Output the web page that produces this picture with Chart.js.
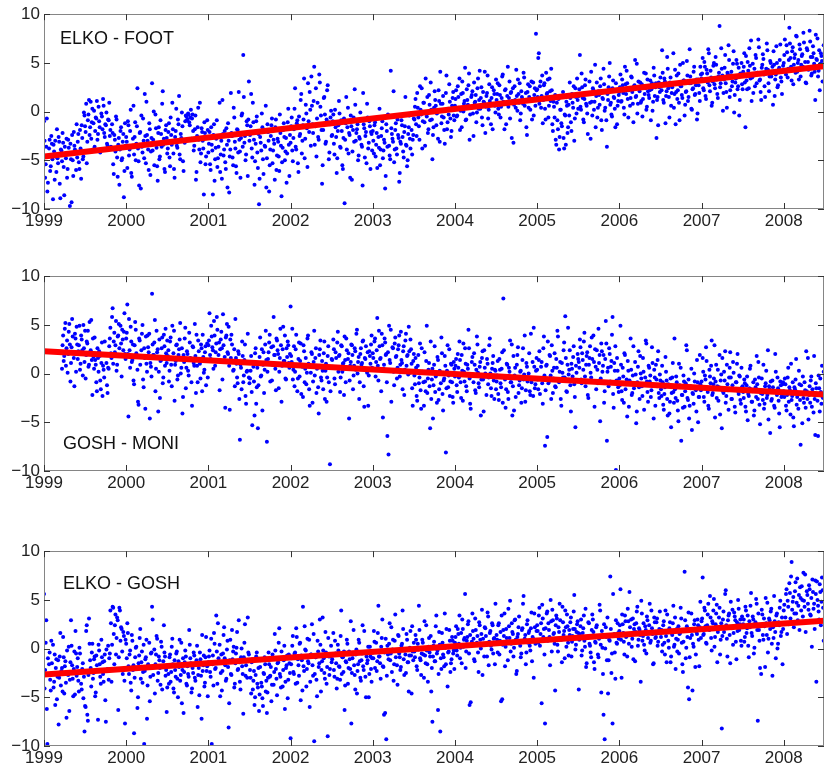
<!DOCTYPE html>
<html><head><meta charset="utf-8">
<script src="https://cdn.jsdelivr.net/npm/chart.js@4.4.1/dist/chart.umd.min.js"></script>
<style>
html,body{margin:0;padding:0;background:#fff;width:828px;height:774px;overflow:hidden;}
canvas{position:absolute;left:0;}
</style></head><body>
<canvas id="c1" width="828" height="239" style="top:0px"></canvas>
<canvas id="c2" width="828" height="239" style="top:262px"></canvas>
<canvas id="c3" width="828" height="239" style="top:537px"></canvas>
<script>
// ---------- data ----------
const firstYear = 1999;
const lastX = 2008.49;
const sampleDays = 5;          // A samples every 5 days, B samples half-way between
const yearTicks = [1999, 2000, 2001, 2002, 2003, 2004, 2005, 2006, 2007, 2008];
const yTicks = [-10, -5, 0, 5, 10];
const panelNames = ["ELKO - FOOT", "GOSH - MONI", "ELKO - GOSH"];

// one inner array per year (1999 ... 2008)
const elkoFootA = [
 [-1.0,-6.8,-3.6,-8.2,-4.5,-2.9,-5.6,-3.3,-9.0,-4.1,-3.0,-6.2,-4.8,-2.6,-7.4,-3.9,-5.1,-3.2,-8.6,-4.4,-2.8,-5.9,-3.7,-9.7,-4.9,-2.4,-6.6,-3.5,-4.2,-1.3,-3.1,-5.2,-1.9,-6.9,-2.7,-4.6,-0.4,-2.1,-5.3,-0.9,1.2,-1.6,-2.8,0.3,-1.2,-3.6,-0.6,1.1,-2.3,-1.0,-4.2,-0.2,-1.8,0.6,-2.6,-1.4,-3.3,-0.8,0.9,-1.9,-3.8,-2.2,-6.4,-2.9,-0.5,-4.7,-3.4,-7.5,-2.0,-5.0,-3.1,-8.8,-1.2],
 [-2.6,-5.8,-1.4,-3.9,0.2,-6.7,-2.8,-4.4,-1.1,-3.3,2.4,-5.1,-2.2,-7.9,-3.6,-0.7,-4.8,-2.5,1.0,-3.0,-6.0,-1.8,-4.1,2.9,-2.9,-5.5,-0.3,-3.7,-7.1,-1.6,-4.6,-2.3,0.8,-3.4,-5.9,-1.9,-2.7,-3.8,-1.2,-5.6,-2.4,0.9,-4.3,-6.8,-2.0,-3.5,-0.8,1.6,-4.9,-2.7,-1.5,-6.1,-3.2,-0.4,-0.9,-0.2,-1.1,-0.6,-2.8,-0.3,-4.0,-1.8,-7.0,-2.5,0.4,-3.9,-5.2,-1.7,-3.0,-8.5,-2.2,-4.6,-0.9],
 [-4.2,-2.1,-6.0,-3.4,-8.5,-1.3,-4.9,-2.8,-5.7,-3.6,0.9,-4.4,-6.9,-2.3,-3.9,-5.2,-1.7,-7.8,-3.0,-4.6,1.9,-2.5,-5.5,-0.6,-3.8,-6.3,-1.9,2.0,-4.1,-2.7,-0.2,5.8,-3.2,-5.0,-1.0,-6.6,3.1,-2.4,1.8,-4.7,-1.1,-7.5,-3.3,-0.5,-5.8,-9.5,-2.6,-4.0,-1.6,-6.4,-3.5,0.6,-4.8,-2.1,-8.2,-3.9,-1.4,-5.3,-2.9,-7.0,-0.8,-4.5,-3.1,-6.1,-2.2,-8.7,-3.7,-1.2,-5.0,-2.7,-4.3,0.3,-6.6],
 [-3.2,-0.6,-5.1,-1.8,2.4,-3.9,-0.9,-6.2,-2.5,1.2,-4.3,-1.4,3.4,-2.8,-0.2,-5.7,-1.0,2.0,-3.5,0.6,-2.2,4.6,-1.5,-4.6,0.9,-2.9,3.0,-0.4,-7.4,-1.9,1.5,-3.3,-0.8,2.7,-4.9,-1.3,0.1,-2.4,-0.3,-4.4,-1.6,-6.3,-2.0,1.1,-3.6,-0.9,-5.5,-2.7,-9.4,-1.2,-3.9,0.4,-2.2,-6.8,-1.5,-4.1,-0.6,2.3,-3.0,-1.8,-5.0,-2.6,-0.1,-3.4,-7.6,-1.3,-4.7,-2.1,0.8,-3.8,-1.0,-5.9,-2.3],
 [-2.0,-4.3,-1.1,-3.4,-5.8,-2.6,0.3,-3.9,-1.7,-4.8,-2.9,-7.9,-1.3,-3.6,-0.5,-4.5,4.2,-2.3,-3.1,-5.2,-1.9,-3.8,-0.8,-2.7,-6.3,-3.3,-1.4,-4.1,-2.1,1.5,-3.5,-5.0,-1.6,-2.8,-0.2,-4.4,-2.4,-0.8,1.3,-2.5,0.4,-1.5,2.6,-0.3,-3.8,0.9,-1.1,3.4,-0.5,-2.2,1.7,-0.9,0.2,-4.9,-1.6,2.1,0.6,-0.2,-2.8,1.1,4.1,-1.2,0.8,-0.6,-3.3,1.9,-1.8,0.3,2.8,-0.7,-2.0,1.4,-0.4],
 [0.6,2.2,-0.4,1.5,3.4,0.1,-1.6,1.9,0.8,4.5,-0.8,1.2,2.7,-2.9,0.4,1.7,-0.2,3.0,1.0,-1.1,2.4,0.3,4.2,1.4,-0.6,2.0,0.9,-2.2,1.6,3.7,0.2,1.1,-1.3,2.5,0.7,1.8,-0.1,1.2,2.9,-0.3,1.7,0.5,3.6,1.0,-1.8,2.3,0.8,4.6,1.4,-0.7,2.0,1.1,-3.2,2.6,0.4,1.6,3.3,0.9,-0.9,2.1,1.3,4.0,0.6,1.9,-2.4,2.8,1.5,0.2,3.1,1.2,-0.4,2.4,8.0],
 [2.3,5.5,0.8,3.1,1.6,-1.2,2.7,0.3,4.0,1.9,-0.6,3.4,1.1,2.2,-2.0,0.5,1.7,-3.4,-0.9,1.3,-2.6,0.2,-1.5,2.0,-3.8,-0.4,1.0,-2.2,0.7,3.0,-1.1,1.8,0.4,-3.0,2.4,-0.2,1.2,1.6,5.8,0.2,2.5,-0.8,1.3,3.3,0.6,-2.3,1.9,0.9,4.1,-0.4,2.2,1.0,-1.6,3.0,0.4,1.7,2.6,-0.9,1.4,4.4,0.1,2.0,-3.6,1.2,3.6,0.7,-0.3,2.4,1.5,0.3,2.9,-1.3,1.1],
 [2.0,3.8,1.1,2.7,0.4,4.6,1.8,2.9,-0.6,2.3,1.4,3.5,0.8,2.6,5.3,1.6,-0.2,3.1,2.1,0.9,2.8,1.3,4.0,2.4,0.2,3.3,1.7,2.2,-0.9,2.9,1.0,3.7,2.5,-2.7,1.5,3.0,2.0,2.8,6.3,1.2,3.4,-1.2,2.1,4.4,1.5,3.0,0.6,2.5,6.0,1.8,-1.3,3.7,2.2,0.9,4.8,2.6,1.4,3.2,-0.4,2.0,5.2,1.1,2.9,3.6,0.3,2.3,4.1,1.7,2.7,-0.8,3.3,1.9,4.6],
 [3.4,5.5,2.2,4.6,1.3,3.9,6.4,2.7,4.2,0.6,3.1,5.0,2.4,4.8,1.8,3.6,8.8,2.9,4.4,0.1,3.3,5.8,2.0,4.0,6.8,1.5,3.7,2.6,4.9,-0.1,3.0,5.3,2.3,4.5,1.2,3.8,2.8,4.1,6.0,-1.6,3.2,5.1,2.4,4.7,7.3,3.5,1.9,4.4,5.8,2.9,4.0,6.6,3.3,1.2,4.8,5.4,2.6,3.9,7.0,4.3,2.1,5.2,3.6,4.6,6.2,1.6,3.8,5.0,2.7,4.5,6.9,3.1,4.2],
 [5.0,7.4,3.8,6.1,4.4,8.6,5.5,3.2,6.6,4.8,5.9,7.8,4.1,5.3,6.9,3.6,5.7,4.6,7.1,5.1,2.9,6.3,4.3,8.3,5.6,3.9,6.7,4.9,1.2,5.4,7.5,4.2,2.2,6.0,5.2,4.7]
];
const elkoFootB = [
 [-3.0,-5.4,-0.7,-7.3,-3.8,-6.1,-2.5,-4.9,-3.4,-7.0,-4.6,-1.8,-5.3,-3.1,-8.9,-4.0,-2.2,-5.7,-3.6,-4.8,-6.8,-2.9,-4.3,-3.3,-9.3,-5.0,-2.1,-3.9,-6.0,-4.7,-2.3,-5.9,-3.8,-1.4,-4.9,-0.1,-1.5,0.8,-3.1,-0.3,-2.4,1.0,-1.1,-3.9,0.1,-2.0,-0.7,-2.9,0.5,-1.6,-4.0,-0.5,1.3,-2.2,-1.3,-0.1,-3.5,-0.9,-2.5,-3.6,-1.3,-5.4,-2.4,-4.1,-0.8,-6.7,-2.7,-3.9,-1.6,-4.8,-2.3,-6.1,-3.5],
 [-3.1,-1.0,-4.5,-2.0,-6.3,-3.5,0.6,-2.6,-5.0,-1.5,-3.8,-7.6,-2.1,-0.4,-4.2,-3.0,1.8,-5.3,-2.4,-3.9,-1.2,-6.5,-2.7,-4.0,0.0,-3.3,-1.7,-5.6,-2.2,-4.9,-0.9,-3.6,2.1,-2.8,-6.2,-1.4,-4.3,-2.1,-4.7,-0.6,-3.4,-1.8,-5.9,-2.6,0.3,-3.7,-1.3,-4.4,-2.3,-0.1,-5.1,-3.0,-1.0,-0.5,-0.8,-0.3,-1.4,0.2,-0.7,-2.0,-3.5,-0.4,-6.2,-1.6,-2.9,0.9,-4.3,-2.1,-3.8,-1.1,-5.4,-2.6,-1.9],
 [-3.3,-5.4,-1.6,-4.0,-2.4,-7.1,-3.7,-0.9,-4.8,-2.6,-6.2,-3.0,1.2,-4.5,-2.0,-5.9,-3.4,-1.2,-8.3,-3.9,-2.2,-4.7,0.4,-3.1,-5.6,-1.8,-4.2,-2.9,-6.8,-0.4,-3.6,1.5,-2.5,-4.4,-1.4,-0.8,-3.0,-1.5,-3.8,0.9,-2.9,-5.1,-1.0,-4.2,-2.3,-6.9,-3.2,-0.2,-4.9,-2.0,-3.6,-7.8,-1.3,-3.0,-5.5,-2.5,-0.7,-4.0,-3.3,-1.6,-6.0,-2.8,-4.6,-0.3,-3.5,-5.2,-1.9,-2.6,-4.1,-7.3,-1.1,-3.4,-2.4],
 [-1.5,-4.0,-2.7,0.3,-3.6,-1.2,-5.3,-0.5,-2.3,1.8,-3.0,-0.8,-4.8,0.7,-1.7,2.9,-2.1,0.2,3.6,-1.3,1.1,-3.4,2.4,-0.7,-2.6,3.8,0.5,-1.9,-5.5,1.4,-0.3,-3.1,2.2,-1.1,-4.2,-0.6,-2.5,-1.0,-3.3,0.2,-2.6,-4.8,-1.4,-0.2,-3.7,-2.0,-5.9,-0.7,-2.9,1.5,-1.6,-4.3,-2.4,-0.4,-7.0,-1.9,-3.1,0.7,-2.2,-1.3,-4.5,-2.8,-0.9,-3.6,1.9,-1.7,-2.5,-5.3,-0.6,-3.2,-1.5,-2.1,-4.0],
 [-3.0,-1.4,-4.6,-2.2,-0.6,-3.7,-5.5,-2.5,-1.0,-4.0,-3.2,-6.6,-2.0,-0.3,-3.5,-4.9,-1.7,-2.8,2.1,-3.9,-1.2,-4.4,-2.4,-7.2,-3.1,-0.9,-2.6,-4.7,-1.5,-3.4,-5.6,-2.3,-0.4,-3.8,-1.9,-2.9,-0.7,0.5,-1.3,1.9,-0.6,-2.9,0.2,2.4,-1.0,0.9,-3.5,-0.2,1.5,-1.8,0.7,3.0,-0.8,-2.4,0.4,1.2,-1.4,-0.1,2.2,-3.1,0.8,-0.5,1.6,-1.9,0.1,3.7,-1.1,-0.3,1.0,-2.6,0.6,2.0,-0.9],
 [1.3,-0.5,2.6,0.4,-1.9,1.8,3.1,0.0,1.1,-0.9,2.3,0.7,3.9,-0.3,1.5,2.1,-2.5,0.9,1.7,-0.1,3.4,1.2,0.3,2.5,-1.4,1.0,4.1,0.5,1.9,-0.7,2.8,0.8,1.4,-1.8,2.2,0.6,3.3,1.8,0.3,2.7,-0.6,1.4,3.8,0.9,2.2,-1.3,1.6,0.5,3.1,1.9,-2.7,2.4,0.7,1.2,4.3,0.1,1.8,2.9,-0.2,1.5,0.8,3.5,1.1,-1.6,2.0,0.4,2.6,1.3,-0.8,3.0,1.7,0.6,2.2],
 [1.5,6.0,2.6,0.4,3.7,1.2,2.9,-0.8,1.8,3.3,0.6,2.1,4.4,-1.3,1.0,-0.6,-2.9,0.9,-1.8,-3.9,0.2,-1.2,1.6,-2.7,-0.3,-3.4,0.6,-1.6,-0.4,1.4,-2.0,0.9,2.6,-0.7,1.5,3.4,0.3,2.3,0.5,3.9,1.4,-1.1,2.7,0.8,-0.2,1.9,3.1,-2.8,1.0,2.4,0.2,4.8,1.6,-0.6,2.1,0.7,3.4,-1.9,1.3,2.8,0.4,-0.9,1.8,2.5,5.0,0.9,-0.5,3.2,1.4,-1.6,2.2,0.6,1.7],
 [2.5,1.0,3.3,1.9,-0.3,2.8,4.2,1.3,2.2,0.6,3.6,2.0,-1.1,2.7,1.5,4.9,0.8,2.4,3.0,1.1,-0.5,2.6,1.8,3.9,0.5,2.1,1.4,3.2,2.3,0.1,4.5,1.6,2.9,1.2,-1.4,2.5,3.5,2.2,4.0,0.9,3.1,1.6,5.6,2.4,-0.6,3.5,1.9,2.8,0.4,4.3,2.0,1.3,3.9,-0.9,2.6,1.7,5.0,3.2,0.7,2.1,3.7,1.5,6.4,2.9,0.2,2.4,4.6,1.8,3.3,-0.2,2.7,1.1,3.8],
 [3.9,2.4,5.1,1.6,4.3,3.0,6.0,2.1,3.5,0.9,4.7,2.8,5.6,3.3,1.4,4.0,2.5,6.5,3.7,1.9,4.5,2.9,0.4,3.8,5.3,2.2,4.1,3.1,6.2,1.7,3.4,4.9,2.6,-0.4,3.9,5.0,2.3,4.6,3.0,5.7,2.3,4.2,6.5,3.4,1.1,4.9,3.7,2.6,5.5,4.0,7.4,3.2,2.0,4.5,5.9,3.8,1.5,4.4,6.3,2.9,3.6,5.0,4.1,0.7,4.8,3.3,6.7,2.5,4.3,5.3,3.5,1.8,4.7],
 [5.8,4.2,6.8,3.5,5.3,7.0,4.6,6.2,2.8,5.5,4.0,7.7,5.0,3.3,6.4,4.8,5.9,8.1,4.4,3.0,6.5,5.1,4.5,7.2,3.7,5.6,6.0,4.1,7.9,5.3,3.6,6.3,4.9,5.7,3.1,6.8]
];

const goshMoniA = [
 [null,null,null,null,null,null,null,null,null,null,null,null,null,null,null,null,0.5,3.9,1.8,5.2,2.6,0.1,4.3,3.0,1.1,5.6,2.2,-1.3,3.6,4.8,1.5,2.9,0.4,3.9,2.4,5.0,1.2,-0.5,3.3,4.4,0.9,2.0,5.5,-2.2,1.7,3.7,0.9,-1.8,1.6,2.3,-0.7,1.1,-2.3,0.4,3.3,1.9,-1.2,0.6,2.8,4.7,1.6,6.7,3.3,2.2,5.4,0.9,3.9,2.6,4.9,-0.3,3.5,4.3,2.0],
 [3.6,7.1,-4.4,2.4,4.8,1.2,3.0,-1.1,5.3,2.1,0.4,-3.2,3.4,1.7,4.1,-0.6,2.6,-3.6,1.0,3.9,2.2,-4.6,0.7,8.2,1.9,3.2,-1.8,4.4,2.5,0.2,-2.5,1.4,3.7,-0.4,2.8,4.6,1.1,1.8,-0.8,3.3,0.9,4.9,2.1,-2.8,1.3,3.0,-0.2,2.5,5.2,0.6,-4.1,1.9,3.6,-1.5,2.3,0.3,4.2,1.6,-0.9,2.8,1.1,5.1,-2.0,0.8,3.4,1.5,-0.5,2.6,4.0,0.1,2.2,-1.2,3.1],
 [2.9,6.2,1.5,3.8,2.4,5.4,0.8,3.1,4.5,1.9,-1.7,3.5,2.6,6.1,1.2,-3.5,3.9,2.2,4.8,-3.7,1.6,3.0,0.3,2.5,5.6,1.0,-1.0,2.0,-6.8,0.6,3.3,-0.9,1.4,-2.3,0.2,4.1,-0.4,-0.5,1.8,-5.3,0.7,-4.3,2.6,-1.4,-5.6,1.1,3.7,-0.2,-3.8,2.2,0.4,4.4,-7.0,1.5,3.2,-0.8,2.7,0.9,5.8,1.9,-1.7,3.4,2.0,0.2,4.6,-2.9,2.5,1.3,3.9,-0.6,1.7,2.9,0.6],
 [6.9,1.2,-0.6,2.8,0.2,4.0,-1.8,1.5,-0.3,3.1,0.9,-2.4,2.3,0.5,-1.1,3.6,1.0,-3.3,0.1,2.0,-0.8,4.4,1.6,-2.0,0.7,-4.1,2.5,-0.4,1.3,-1.6,3.3,0.3,-2.9,1.8,-0.9,-9.3,0.6,1.4,3.5,-0.5,2.2,0.6,4.3,1.8,-1.9,2.9,0.2,1.1,3.8,-0.9,2.4,1.5,-4.6,0.8,3.0,1.9,-0.2,2.6,0.4,4.5,1.2,-2.6,2.0,0.9,3.3,-1.3,1.6,2.8,0.1,-3.3,2.3,1.0,3.9],
 [2.1,0.4,3.6,1.2,5.7,-0.7,2.8,1.6,4.1,-4.5,0.9,3.2,2.0,-6.4,-8.3,1.4,4.5,0.3,2.6,-1.2,3.7,1.8,0.6,2.9,-0.3,4.3,1.1,2.3,-2.2,3.4,0.8,1.9,4.8,0.1,2.5,-1.5,1.3,-0.2,1.6,-2.3,0.8,-1.0,3.1,-3.6,0.2,-0.9,2.2,-1.8,4.9,-0.5,1.1,-5.6,-2.6,0.5,-1.2,2.8,-0.3,-3.0,1.4,-1.6,0.0,3.7,-2.1,-0.7,1.8,-8.1,0.3,-1.4,2.5,-0.8,0.9,-2.4,1.2],
 [-0.3,1.5,-1.9,0.6,3.3,-0.9,1.9,-2.8,0.2,2.6,-1.3,0.9,4.5,-0.5,-3.6,1.2,-0.1,2.1,-1.7,0.4,3.0,-1.0,0.7,-4.3,1.6,-0.6,2.4,0.0,-2.2,1.0,-0.4,3.6,-1.5,0.5,1.8,-2.6,0.3,-0.8,1.3,-2.7,0.4,-1.4,2.2,7.7,-0.3,-3.5,1.0,-1.9,0.6,3.4,-0.9,-4.3,1.8,-0.2,-2.4,0.9,2.7,-1.2,0.2,-3.0,1.4,-0.6,3.9,-1.7,0.7,-0.4,2.1,-2.2,-0.9,1.2,4.7,-1.5,0.3],
 [0.4,-1.6,2.3,-0.5,1.2,-3.1,3.8,-7.4,0.8,-6.5,-1.0,1.9,-0.2,2.9,-2.0,0.6,-1.3,1.5,4.4,-0.7,0.2,-2.6,1.1,-0.4,3.2,5.9,-1.8,0.9,-0.1,2.4,-3.9,0.5,1.7,-1.1,-5.5,0.1,2.0,1.2,3.5,-0.6,2.1,0.4,4.2,-1.3,1.8,-2.2,0.9,2.8,-0.4,1.5,3.9,-3.4,0.7,2.4,-1.0,1.1,-4.9,3.1,0.2,1.9,-1.8,5.4,-6.9,0.6,2.6,-0.8,1.3,5.8,-3.5,0.3,-9.9,1.6,-1.4],
 [-0.5,4.9,-1.8,0.6,-3.0,1.9,-1.1,-4.4,0.3,-0.7,3.6,-2.2,-0.2,-1.5,1.2,-5.1,-0.9,2.3,-2.6,0.0,-1.3,1.6,-3.7,-0.4,3.1,-1.9,0.8,-0.8,-2.4,2.7,-1.2,0.4,-3.3,-0.6,1.4,-2.0,-0.1,-1.6,0.8,-3.2,-2.1,1.7,-0.7,-4.3,-1.2,-2.9,-5.5,-0.4,-1.9,3.6,-2.5,-0.9,-3.8,1.0,-1.4,-6.9,-2.2,-0.2,-3.4,-1.0,2.4,-2.7,-4.6,-1.5,0.5,-2.0,-3.1,-0.8,-1.7,1.4,-5.0,-2.4,-1.1],
 [-0.8,1.6,-2.4,-0.2,2.7,-1.5,-3.3,0.4,-1.0,3.4,-2.0,-0.5,-4.5,0.9,-1.3,-2.8,1.9,-0.7,-5.6,-1.8,0.2,2.3,-2.3,-1.1,-3.7,0.6,-0.4,-2.6,1.2,-1.6,-4.0,-0.9,2.0,-2.1,-0.3,-3.1,-1.4,-1.9,-0.6,-3.4,-1.2,-4.8,-2.3,0.5,-1.6,-2.9,-0.9,-3.8,-1.4,1.8,-2.6,-0.4,-5.2,-1.7,-2.1,0.9,-3.1,-1.0,-2.5,2.4,-1.3,-6.1,-2.8,-0.7,-1.8,-3.5,0.2,-2.2,-1.5,-4.1,-0.8,-2.4,-1.1],
 [-1.8,-0.5,-3.3,-2.2,0.6,-1.4,-4.2,-2.7,-0.9,-5.4,-1.6,1.5,-2.4,-3.6,-1.1,-7.3,-2.0,-0.3,-3.0,-1.7,2.3,-2.6,-4.7,-1.3,-0.7,-3.4,-2.1,1.8,-6.3,-1.5,-2.8,-0.2,-3.9,-1.9,0.8,-2.5]
];
const goshMoniB = [
 [null,null,null,null,null,null,null,null,null,null,null,null,null,null,null,null,2.9,1.3,4.6,0.8,3.4,2.0,5.1,-0.8,2.7,3.8,1.6,4.1,0.2,3.0,2.3,4.9,1.0,3.5,-0.2,2.6,4.4,1.9,3.1,0.7,5.3,2.4,1.4,3.6,0.5,1.4,-0.9,2.6,0.2,1.8,-1.6,3.2,0.8,-0.4,2.0,1.1,-2.0,0.5,3.6,2.1,5.8,1.0,4.2,2.9,0.3,3.8,5.1,1.8,3.1,4.5,2.4,6.2,1.5],
 [4.2,2.0,5.6,0.6,3.3,1.4,-0.7,2.9,4.5,1.8,-2.9,3.6,0.9,2.4,5.0,-1.4,1.6,3.8,0.2,2.7,4.1,1.1,-0.3,3.0,1.9,5.5,0.5,2.2,-3.9,3.5,1.3,2.6,-1.0,4.0,0.8,2.1,3.4,2.4,0.3,3.7,-1.3,1.6,4.4,0.9,2.9,-0.6,1.9,3.5,0.0,2.6,-2.4,1.2,4.7,0.6,2.0,-0.2,3.2,1.5,-3.3,2.7,0.8,1.8,4.0,-0.9,2.3,1.0,3.0,-1.8,1.7,0.4,2.8,1.3,-0.4],
 [3.4,1.9,4.9,2.7,0.5,3.9,2.2,5.8,1.4,3.2,2.5,4.3,-0.6,2.9,1.7,3.7,5.1,2.0,0.8,3.5,4.0,1.2,0.4,-1.3,1.6,-0.4,2.3,-2.6,0.9,-1.6,1.8,-0.2,3.0,-3.1,0.3,1.1,-1.0,0.3,-1.9,1.2,-0.8,2.1,-3.1,0.6,-1.2,1.7,-0.3,2.5,0.9,-2.0,3.0,1.4,0.2,2.2,4.0,1.0,-0.7,2.8,1.9,0.5,3.6,2.4,-1.5,1.6,2.9,0.8,4.8,1.3,-0.5,2.6,3.3,1.1,2.0],
 [1.8,4.6,0.4,-1.3,2.5,0.9,-0.5,3.2,1.3,-2.1,0.7,2.9,-0.9,1.6,0.1,3.9,-1.6,0.8,2.2,-3.0,1.2,-0.2,2.6,0.5,-1.4,1.9,3.4,-0.7,0.3,2.1,-2.6,1.0,-0.4,2.8,0.6,-1.8,1.5,0.7,2.5,-1.1,1.6,3.2,0.2,1.9,-0.4,2.8,1.0,-2.2,1.4,3.6,0.5,2.1,-0.7,1.2,2.9,-1.6,0.8,2.3,4.1,0.0,1.7,-0.9,2.6,1.1,3.4,-3.4,1.5,0.4,2.2,-0.2,1.8,3.0,0.6],
 [1.6,3.3,-0.3,2.4,0.8,4.4,1.5,-1.8,2.9,0.5,3.6,1.9,-0.9,2.2,4.9,1.1,-2.9,2.7,0.2,3.1,1.7,-0.5,2.5,3.9,0.9,1.4,-1.6,2.8,0.4,4.1,1.8,-0.1,2.3,3.5,1.0,-3.3,2.0,-1.1,0.6,-2.8,1.9,-0.4,-1.7,2.6,0.2,-3.3,-0.8,1.3,-2.0,0.4,-1.3,3.3,-0.6,-4.6,0.9,-1.9,-0.1,1.7,-2.7,0.3,-1.0,2.1,-3.8,-0.5,0.8,-1.5,2.9,-0.2,-2.3,1.0,-0.9,-3.0,0.5],
 [0.8,-1.2,2.0,-0.4,1.4,-2.5,0.3,3.1,-0.8,1.0,-1.8,0.5,2.6,-3.1,-0.2,1.7,-0.9,0.9,-2.0,3.8,0.1,-1.4,1.2,-0.6,2.3,-3.9,0.6,-0.3,1.5,-1.1,2.9,0.0,-2.3,1.1,-0.7,0.4,-1.6,-0.2,-2.1,1.5,-1.0,0.5,-3.0,2.4,-0.6,-1.6,0.9,-2.6,0.2,-0.9,3.0,-1.3,-3.8,0.6,-0.4,1.9,-2.0,-0.7,0.3,-1.5,2.6,-0.1,-2.9,1.1,-0.8,0.0,-1.8,4.1,-0.5,-2.3,0.7,-1.1,1.6],
 [-0.6,1.4,-2.1,0.7,-1.0,2.6,-0.2,-1.7,0.9,3.3,-0.8,1.8,-2.6,0.3,-0.5,2.1,-1.4,0.6,3.8,-0.9,1.2,-3.3,0.1,2.4,-0.4,1.6,-1.9,4.7,0.4,-1.2,1.0,-0.3,2.8,-2.4,0.8,-0.7,1.5,0.6,2.7,-1.0,1.4,3.3,-0.3,0.9,2.2,-2.5,1.6,0.1,3.7,-0.8,1.2,2.5,-1.6,0.4,4.6,1.9,-0.5,2.3,0.8,-3.0,1.5,3.1,0.2,-1.3,2.0,0.7,4.0,-2.1,1.1,2.8,-0.7,0.3,-1.9],
 [-1.2,0.9,-2.7,-0.3,2.1,-1.6,-0.6,1.3,-3.4,-0.9,0.4,-2.0,2.8,-1.0,-0.1,-3.9,0.7,-1.4,1.8,-0.5,-2.3,0.2,-1.1,3.4,-0.8,-2.9,0.6,-0.2,-1.7,1.1,-4.6,-0.4,0.9,-1.3,2.3,-2.5,-0.7,-2.3,-0.9,-3.7,-1.4,0.2,-2.6,-1.1,-4.1,-0.5,-2.0,1.1,-3.0,-1.6,-0.3,-2.8,-4.9,-1.2,0.6,-2.2,-3.5,-0.8,-1.8,2.9,-2.5,-0.6,-3.3,-1.3,-5.8,-2.1,0.0,-1.5,-3.9,-0.9,-2.4,1.9,-1.7],
 [-1.5,0.2,-2.9,-0.6,1.3,-1.9,-3.6,-0.3,0.8,-2.2,-1.1,2.9,-0.8,-2.5,0.4,-1.4,-4.2,-0.1,1.6,-2.0,-0.7,-3.0,0.9,-1.7,-0.4,2.2,-2.6,-1.2,0.1,-3.4,-0.9,1.0,-1.8,-0.2,-2.7,0.6,-1.3,-2.5,-1.0,-3.9,-0.3,-2.1,-1.5,0.8,-2.9,-1.8,-4.3,-0.6,-2.4,-1.1,1.2,-3.2,-2.0,-0.5,-2.7,-3.6,-1.3,0.3,-2.2,-4.7,-1.6,-0.8,-2.6,-1.4,-3.3,2.0,-1.9,-0.4,-2.8,-5.5,-1.2,-2.3,-0.9],
 [-2.4,-1.1,-3.8,-0.4,-2.9,-1.7,1.0,-2.3,-4.5,-1.4,-0.6,-3.2,-2.0,0.3,-2.7,-1.2,-5.1,-2.5,-0.9,-3.5,-1.8,1.6,-2.2,-3.0,-0.3,-1.6,-4.0,-2.6,-1.0,-2.1,-6.4,-1.5,-0.5,-3.1,-2.4,0.2]
];

const elkoGoshA = [
 [5.6,-2.2,2.9,-9.8,-2.6,-0.4,-4.3,-1.5,0.4,-3.4,-5.8,-1.1,-2.9,-7.8,-0.8,-3.8,-2.0,1.2,-4.6,-1.3,-7.1,-2.4,0.2,-3.2,2.9,-1.7,-4.9,-0.3,1.8,-2.8,-1.0,-4.4,-0.5,-3.6,-2.1,-5.1,-8.5,-6.0,2.4,-7.4,3.1,-1.2,-3.9,0.5,-2.5,-0.8,-4.5,-1.7,-7.3,-0.2,-2.9,0.9,-1.4,-3.4,-0.6,-7.5,-2.2,0.3,-1.0,3.9,-3.4,4.3,1.5,2.4,-0.6,3.2,-6.3,4.2,0.8,2.0,-2.6,1.3,-7.7],
 [0.5,2.6,-1.8,-0.6,-3.5,1.4,-2.2,-8.7,-0.9,0.2,-6.1,-1.5,1.1,-3.1,-0.3,-2.4,-9.8,-1.1,0.9,-3.8,-1.9,-5.4,-0.5,4.3,-2.7,-0.1,-1.6,1.3,-3.3,-0.8,-2.0,0.7,-4.2,-1.3,-0.4,-2.8,-6.5,-1.7,-3.6,-0.6,-2.4,1.0,-4.1,-1.2,-2.9,-0.3,-5.0,-1.9,-3.3,0.6,-2.2,-6.6,-1.4,-0.8,-3.8,-2.6,1.9,-1.0,-4.5,-2.0,-0.4,-3.0,-1.5,0.3,-2.7,-4.8,-1.1,-7.2,-2.3,-0.7,-3.5,1.2,-1.8],
 [-1.4,-0.2,-2.9,-9.8,-0.7,1.6,-2.1,3.4,-3.6,-1.0,0.4,-2.5,-4.3,-0.5,2.2,-1.7,-3.1,0.8,-8.1,-1.2,-2.6,1.9,-0.3,-4.0,-1.5,0.1,-2.2,2.9,-3.4,-0.9,-1.8,-6.7,0.6,-2.8,-1.3,3.2,-0.6,-2.2,-4.6,-1.1,-3.3,-5.8,-2.7,-0.4,-4.0,-6.4,-1.9,-3.5,-5.1,-2.5,-0.9,-4.4,-6.6,-3.0,-1.6,-2.8,-5.4,-0.6,-3.7,1.5,-2.1,-4.8,-1.4,2.1,-2.9,-0.3,-3.9,-1.2,-6.2,-2.0,-0.7,-3.2,-1.5],
 [-9.2,-1.0,1.3,-2.6,-0.4,2.1,-3.5,-1.7,0.5,-5.3,-1.2,4.3,-2.3,-0.1,-3.9,1.0,-1.5,-6.0,-0.6,2.5,-2.8,-9.5,-0.9,-3.2,0.8,-1.9,3.0,-4.4,-1.3,-0.2,-2.5,1.7,-3.6,-9.0,-0.8,-2.1,0.3,-1.1,1.6,-2.9,-0.5,-4.1,0.4,-1.8,-3.2,3.9,-0.9,-2.4,-6.3,-1.3,0.9,-3.6,-0.3,-2.1,-7.7,-1.0,1.9,-2.7,-0.6,-4.6,-1.6,0.6,-3.0,-1.2,2.4,-2.2,-0.4,-5.0,-1.5,0.2,-2.6,-0.8,-3.4],
 [-0.4,1.8,-2.0,0.6,-1.3,4.4,-0.8,-3.1,1.1,-1.8,-6.8,-6.6,-9.3,0.3,-1.1,2.6,-0.5,-2.4,0.9,-1.6,3.5,-0.2,-3.7,1.3,-0.9,-1.9,0.5,2.0,-2.7,-0.6,1.5,-1.4,-4.4,0.1,-0.7,2.3,-1.2,-0.3,1.4,-1.8,0.5,4.4,-1.0,-2.7,0.9,-0.6,2.8,-1.5,-0.2,-3.4,1.1,-0.8,-4.4,-7.5,0.3,-1.3,2.3,-0.5,-6.3,1.7,-8.5,-2.1,0.6,-0.9,3.6,-1.6,0.2,-0.4,1.9,-2.4,-1.1,0.8,-0.2],
 [0.6,2.3,-0.7,1.5,3.4,0.1,-1.5,2.0,0.9,5.6,-0.3,1.2,2.8,-5.8,-5.5,0.7,1.8,-1.1,3.1,0.4,1.3,-2.4,2.4,0.0,4.0,1.0,-0.8,2.1,0.5,3.7,-1.7,1.6,0.3,2.6,-0.5,1.1,4.6,1.4,-0.4,2.6,0.8,-5.4,-5.2,1.9,3.6,0.2,1.1,-1.2,2.3,4.9,0.5,1.7,-0.8,2.9,0.9,-2.3,1.5,3.3,0.3,-0.5,2.1,5.4,1.0,-1.6,2.5,0.6,1.8,-0.2,3.7,1.2,-3.0,2.2,0.7],
 [2.4,0.6,4.2,1.5,-5.6,3.1,2.0,-7.7,0.9,3.8,2.6,1.2,5.0,-0.3,2.9,1.6,-4.3,3.4,0.4,2.2,4.6,1.0,-1.4,2.7,1.8,3.9,0.2,2.3,-0.7,1.4,3.2,0.7,2.0,5.5,-0.1,1.7,2.8,-4.2,1.5,3.0,-0.2,2.1,0.8,4.1,-1.5,1.2,2.6,0.3,-0.9,3.5,1.7,-2.1,0.6,2.4,-0.6,1.0,3.9,-4.5,0.1,-6.8,-9.3,2.2,-1.2,-4.6,0.9,7.4,-2.5,-7.7,1.4,-0.4,2.9,0.5,1.6],
 [1.8,6.1,-3.0,2.5,0.7,3.4,1.2,-0.8,2.8,5.8,1.5,0.2,3.1,2.0,-1.3,2.6,4.3,0.9,1.9,-3.4,3.6,1.3,0.4,2.3,-0.5,2.9,1.6,4.6,0.8,2.1,-1.6,3.2,1.1,2.7,0.3,1.7,3.8,1.2,-0.3,2.4,0.6,3.9,-1.4,1.8,0.1,2.7,-0.8,1.4,4.4,0.4,-2.1,2.0,0.9,-0.5,1.6,3.1,-1.6,0.7,7.9,-1.0,2.3,-4.0,-5.2,1.1,3.6,-4.3,0.2,2.9,-0.6,1.5,2.4,-1.8,4.8],
 [2.8,7.3,1.5,3.9,0.6,2.4,4.6,1.9,3.2,-0.2,2.6,5.1,1.2,3.6,-1.4,2.2,4.2,0.9,-8.2,3.0,1.7,5.6,2.4,-0.8,3.4,1.4,4.8,2.1,0.4,3.7,2.9,-1.1,1.8,4.1,2.5,0.8,3.3,2.5,0.7,4.3,1.6,3.4,-0.9,2.2,5.7,1.3,3.0,0.1,2.7,4.6,-7.4,1.9,-2.0,-2.6,3.5,0.9,2.3,5.2,1.4,-0.4,3.1,2.0,4.1,-2.8,1.1,2.8,-1.0,3.6,0.5,2.4,4.9,1.7,-1.6],
 [3.9,2.6,5.6,1.5,4.3,6.7,3.1,8.9,4.8,2.2,5.9,3.6,7.2,4.4,1.9,5.2,6.4,3.3,4.9,7.6,2.8,5.5,4.0,6.1,3.4,0.2,5.8,4.6,7.0,-3.4,5.0,3.8,6.6,2.4,7.3,4.2]
];
const elkoGoshB = [
 [-4.1,0.6,-6.2,-1.0,-1.6,-3.2,0.8,-2.5,-4.0,-0.6,-2.0,-5.2,-1.2,-3.0,1.6,-2.3,-4.4,-0.9,-1.8,-3.5,-0.2,-2.7,-6.4,-1.4,0.3,-3.1,-2.1,-4.7,-0.5,-1.9,-3.3,0.1,-2.4,-4.2,-1.5,-2.9,-5.9,1.8,-6.8,-2.7,0.5,-2.0,-0.4,-3.1,-1.1,-4.9,-0.7,-2.3,0.4,-1.6,-3.6,-0.9,-2.6,-1.3,-5.3,-0.1,-2.1,-3.2,-0.5,2.6,0.4,4.2,-1.6,3.5,1.1,2.9,-0.9,3.9,2.2,-0.3,1.7,-3.3,0.9],
 [-1.0,1.6,-2.6,-0.2,-4.3,0.8,-1.7,-3.0,0.1,-2.1,-5.0,-0.7,2.0,-1.4,-3.5,0.4,-2.3,-0.9,-7.2,-1.6,0.6,-2.9,-0.4,3.0,-1.9,-4.6,-0.6,1.0,-2.5,-1.2,-3.7,0.2,-1.8,2.4,-0.8,-2.2,-4.0,-2.6,-0.9,-3.4,0.2,-1.6,-4.5,-2.2,-0.5,-3.1,-1.3,0.9,-2.7,-5.6,-1.0,-2.4,-0.2,-3.6,-1.8,-2.9,0.4,-1.5,-4.1,-2.5,-0.7,-3.3,-1.2,-6.0,-2.0,-0.4,-2.8,1.4,-1.7,-3.9,-0.9,-2.3,-4.9],
 [-0.8,-2.4,1.0,-1.6,-3.8,0.5,-2.0,-0.3,2.6,-1.3,-4.9,-0.6,-2.3,1.4,-1.0,-3.3,-0.1,-1.9,-5.6,0.9,-2.7,-1.1,0.2,-3.6,-0.5,1.7,-2.1,-1.4,-4.2,0.0,-2.6,-0.9,2.5,-1.7,-3.0,-0.4,-1.2,-3.0,-1.4,-4.2,-2.3,-5.0,-0.8,-3.6,-2.0,-4.7,-1.2,-3.9,-5.9,-2.6,-1.6,-3.3,-4.5,-0.4,-2.9,-1.9,-3.7,-1.0,-2.4,-0.2,-3.1,-1.5,0.6,-2.6,-4.0,-1.1,-2.2,0.3,-3.4,-1.7,-5.1,-0.6,-2.5],
 [-1.6,0.3,-2.4,-0.5,-3.6,1.2,-1.1,-2.8,0.6,-0.7,-4.3,-1.8,2.3,-0.2,-2.1,-1.3,0.9,-3.4,-0.6,-1.7,1.5,-2.6,-0.9,-4.9,-0.3,-1.5,0.4,-2.2,3.2,-1.0,-3.1,-0.4,-1.9,1.1,-2.7,-0.8,-1.4,-0.7,-2.2,0.8,-1.5,-3.1,-0.2,-1.9,1.3,-2.6,-0.9,-0.3,-3.8,-1.4,0.5,-2.0,-1.1,2.8,-2.5,-0.6,-1.7,-4.2,-0.1,-2.3,0.9,-1.3,-3.3,-0.5,-1.8,1.8,-2.9,-0.8,-1.2,-5.0,0.2,-2.1,-1.0],
 [-1.0,0.7,-0.3,-2.3,1.6,-0.8,-1.5,0.2,3.0,-1.9,-0.4,1.0,-2.8,-0.6,0.5,-1.2,2.2,-0.1,-3.3,0.8,-0.9,-1.7,1.4,-0.5,-2.2,0.3,3.9,-1.1,-0.2,-2.5,0.9,-1.4,-0.7,1.8,-4.6,-0.3,0.6,-0.9,0.9,-2.2,-0.1,1.9,-1.2,-0.5,0.6,-3.0,-0.7,2.4,-1.6,0.2,-0.4,1.3,-2.0,-0.8,0.7,-1.3,3.4,-0.2,-2.6,0.4,-1.0,1.6,-0.6,-1.8,0.1,2.0,-3.9,-0.3,0.8,-1.5,1.2,-0.5,-2.1],
 [1.2,-0.2,2.0,0.5,-1.0,1.6,3.0,0.2,1.1,-2.0,0.8,2.5,-0.5,1.4,0.3,3.6,1.0,-1.3,1.9,0.6,-0.4,2.7,0.9,1.5,-2.7,0.4,2.2,1.3,-0.8,3.3,0.7,1.8,-0.1,2.4,1.0,-1.6,0.5,0.9,2.4,-0.6,1.7,3.4,0.4,1.3,-1.8,2.0,0.7,4.1,1.1,-0.3,2.6,1.5,0.1,3.0,-2.6,1.2,2.2,0.6,-0.9,1.9,4.6,0.8,1.4,-0.4,2.9,1.6,0.3,2.1,-1.3,1.0,3.6,0.5,1.8],
 [1.8,3.4,0.3,2.6,4.5,1.2,-0.6,2.1,3.6,0.8,1.9,-1.7,2.8,4.0,1.5,0.5,2.4,3.1,-0.3,1.7,2.9,0.9,4.3,1.4,-1.0,2.2,3.5,0.6,1.9,2.7,-0.8,1.3,3.8,2.0,0.4,2.5,1.6,0.9,2.3,-0.7,1.6,3.4,0.2,-1.9,1.1,2.7,0.5,-0.4,1.9,3.0,-1.4,0.7,2.2,1.3,-0.9,4.5,0.4,1.8,-2.6,2.5,0.0,1.2,3.2,-1.2,0.8,2.0,-0.5,5.6,1.5,-3.1,0.6,2.6,1.0],
 [2.4,0.9,3.5,1.6,-0.6,2.8,1.3,4.1,0.5,2.2,3.0,1.0,-1.1,2.5,1.7,3.8,0.3,2.1,1.4,4.9,0.8,2.6,-0.2,1.9,3.3,1.1,2.4,0.6,3.9,1.5,-1.5,2.7,1.2,3.1,0.7,2.0,1.6,1.9,0.4,2.8,-0.6,1.3,3.5,0.8,2.1,-1.4,1.6,2.6,0.2,3.2,1.0,-0.3,2.3,1.5,4.2,0.6,-2.4,1.8,2.9,0.1,1.2,3.7,-0.9,2.0,1.4,0.5,2.5,-1.9,1.7,3.0,0.9,2.2,1.1],
 [3.1,1.4,4.2,2.3,0.5,3.5,2.0,5.4,1.1,2.8,3.9,0.2,2.5,4.5,1.7,3.2,-0.6,2.6,1.3,3.8,2.1,6.0,1.0,2.9,3.6,-1.5,2.2,4.0,1.6,3.3,0.7,2.7,5.0,1.9,3.0,0.3,2.4,3.0,1.2,3.9,2.1,0.3,2.8,4.4,1.6,3.3,-0.5,2.5,5.1,1.9,3.6,0.8,2.3,4.0,1.4,3.1,-1.9,2.6,4.7,1.0,2.9,3.8,0.5,2.2,5.4,1.7,3.4,0.0,2.7,4.2,1.3,3.2,2.0],
 [4.5,3.2,6.1,4.9,2.5,5.7,7.4,4.0,5.3,3.6,6.8,4.7,2.9,5.5,6.3,3.9,5.0,7.8,4.3,1.7,5.9,4.6,6.5,3.5,5.2,7.1,4.1,2.0,5.6,6.9,4.4,3.0,5.8,4.8,6.0,0.8]
];

// fitted trend: value at the first and last date
const trendFoot = [-4.6, 4.65];
const trendMoni = [2.3, -2.15];
const trendGosh = [-2.65, 2.85];

// ---------- drawing ----------
function toPoints(byYear, offsetDays) {
  const pts = [];
  byYear.forEach((vals, k) => {
    vals.forEach((v, j) => {
      if (v !== null) pts.push({x: firstYear + k + (j * sampleDays + offsetDays) / 365.25, y: v});
    });
  });
  return pts;
}

const tickFont = {family: '"Liberation Sans", Arial, Helvetica, sans-serif', size: 17};
const minus = v => v < 0 ? '\u2212' + Math.abs(v) : String(v);

const framePlugin = {
  id: 'frame',
  afterDatasetsDraw(chart, args, opts) {
    const {ctx, chartArea: a, scales: {x, y}} = chart;
    ctx.save();
    ctx.strokeStyle = '#858585';
    ctx.lineWidth = 1;
    ctx.strokeRect(Math.round(a.left) + 0.5, Math.round(a.top) + 0.5, Math.round(a.right - a.left) - 1, Math.round(a.bottom - a.top) - 1);
    ctx.strokeStyle = '#333';
    ctx.beginPath();
    yearTicks.forEach(v => {
      const px = Math.round(x.getPixelForValue(v)) + 0.5;
      ctx.moveTo(px, a.bottom); ctx.lineTo(px, a.bottom - 6);
      ctx.moveTo(px, a.top); ctx.lineTo(px, a.top + 6);
    });
    yTicks.forEach(v => {
      const py = Math.round(y.getPixelForValue(v)) + 0.5;
      ctx.moveTo(a.left, py); ctx.lineTo(a.left + 6, py);
      ctx.moveTo(a.right, py); ctx.lineTo(a.right - 6, py);
    });
    ctx.stroke();
    ctx.fillStyle = '#111';
    ctx.font = '18px "Liberation Sans", Arial, Helvetica, sans-serif';
    ctx.textBaseline = 'alphabetic';
    ctx.textAlign = 'left';
    const ty = opts.fromBottom ? a.bottom - opts.dy : a.top + opts.dy;
    ctx.fillText(opts.label, a.left + opts.dx, ty);
    ctx.restore();
  }
};

function makeChart(id, seriesA, seriesB, trend, label, labelPos) {
  const dots = {
    backgroundColor: '#0000ff',
    borderWidth: 0,
    pointRadius: 2.0,
    order: 1
  };
  new Chart(document.getElementById(id), {
    type: 'scatter',
    data: {
      datasets: [
        {
          type: 'line',
          data: [{x: firstYear, y: trend[0]}, {x: lastX, y: trend[1]}],
          borderColor: '#ff0000',
          borderWidth: 6,
          pointRadius: 0,
          order: 0
        },
        Object.assign({data: toPoints(seriesA, 0)}, dots),
        Object.assign({data: toPoints(seriesB, sampleDays / 2)}, dots)
      ]
    },
    options: {
      responsive: false,
      animation: false,
      events: [],
      layout: {padding: {top: 13, right: 1, left: 0, bottom: 0}},
      plugins: {
        legend: {display: false},
        tooltip: {enabled: false},
        frame: Object.assign({label}, labelPos)
      },
      scales: {
        x: {
          type: 'linear',
          min: firstYear,
          max: lastX,
          afterBuildTicks: s => { s.ticks = yearTicks.map(v => ({value: v})); },
          afterFit: s => { s.height = 30; },
          grid: {display: false, drawTicks: false},
          border: {display: false},
          ticks: {font: tickFont, color: '#222', padding: 2, maxRotation: 0, autoSkip: false, callback: v => String(v)}
        },
        y: {
          min: -10,
          max: 10,
          afterBuildTicks: s => { s.ticks = yTicks.map(v => ({value: v})); },
          afterFit: s => { s.width = 44; },
          grid: {display: false, drawTicks: false},
          border: {display: false},
          ticks: {font: tickFont, color: '#222', padding: 4, callback: v => minus(v)}
        }
      }
    },
    plugins: [framePlugin]
  });
}

makeChart('c1', elkoFootA, elkoFootB, trendFoot, panelNames[0], {dx: 16, dy: 30, fromBottom: false});
makeChart('c2', goshMoniA, goshMoniB, trendMoni, panelNames[1], {dx: 19, dy: 22, fromBottom: true});
makeChart('c3', elkoGoshA, elkoGoshB, trendGosh, panelNames[2], {dx: 19, dy: 38, fromBottom: false});
</script>
</body></html>
